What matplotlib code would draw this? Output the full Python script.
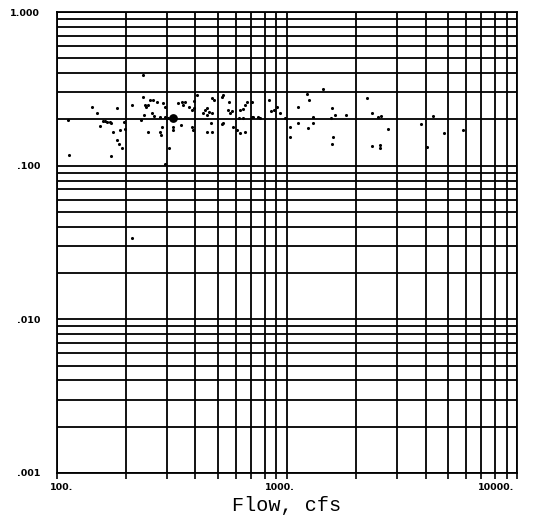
import matplotlib
matplotlib.use("Agg")
import matplotlib.pyplot as plt
from matplotlib.ticker import LogLocator, NullFormatter, FixedLocator
from matplotlib.transforms import ScaledTranslation

# flow (cfs) and ratio
flow = [112, 113, 142, 149, 182, 158, 162, 165, 170, 172,
        154, 188, 198, 196, 175, 182, 187, 191, 171, 211,
        237, 241, 249, 254, 261, 245, 240, 258, 264, 233,
        248, 237, 213, 273, 290, 295, 280, 295, 305, 337,
        348, 354, 360, 376, 385, 394, 405, 394, 285, 280,
        282, 318, 320, 345, 385, 389, 308, 295, 440, 448,
        459, 471, 433, 450, 471, 482, 520, 529, 561, 556,
        575, 565, 529, 520, 467, 471, 450, 625, 646, 620,
        646, 584, 608, 625, 668, 657, 702, 702, 714, 750,
        763, 657, 835, 852, 881, 902, 932, 980, 1438, 1225,
        1250, 1119, 1301, 1113, 1030, 1230, 1301, 1030, 1574, 1617,
        1554, 1590, 1564, 2221, 1805, 2349, 2494, 2555, 2757, 2349,
        2537, 2537, 3824, 4074, 4326, 4815, 5805]
ratio = [0.198, 0.117, 0.242, 0.219, 0.236, 0.195, 0.195, 0.193, 0.192, 0.189,
         0.181, 0.171, 0.173, 0.193, 0.166, 0.147, 0.138, 0.130, 0.116, 0.248,
         0.281, 0.248, 0.248, 0.268, 0.268, 0.242, 0.214, 0.219, 0.211, 0.198,
         0.166, 0.389, 0.034, 0.261, 0.255, 0.242, 0.207, 0.208, 0.203, 0.255,
         0.259, 0.248, 0.261, 0.242, 0.230, 0.236, 0.288, 0.264, 0.179, 0.166,
         0.158, 0.179, 0.171, 0.184, 0.179, 0.171, 0.130, 0.103, 0.230, 0.236,
         0.225, 0.219, 0.219, 0.214, 0.277, 0.268, 0.281, 0.288, 0.261, 0.230,
         0.227, 0.219, 0.189, 0.186, 0.189, 0.166, 0.166, 0.230, 0.234, 0.203,
         0.203, 0.179, 0.171, 0.164, 0.261, 0.248, 0.261, 0.208, 0.207, 0.208,
         0.203, 0.166, 0.268, 0.227, 0.230, 0.242, 0.219, 0.203, 0.314, 0.291,
         0.268, 0.242, 0.208, 0.189, 0.179, 0.177, 0.189, 0.154, 0.238, 0.214,
         0.203, 0.154, 0.138, 0.275, 0.214, 0.219, 0.208, 0.212, 0.173, 0.134,
         0.136, 0.131, 0.186, 0.132, 0.212, 0.164, 0.171]

# one heavy dot in the cluster
big_flow = [318]
big_ratio = [0.203]

fig = plt.figure(figsize=(5.42, 5.22), dpi=100)
ax = fig.add_axes([0.105, 0.094, 0.849, 0.883])

ax.scatter(flow, ratio, s=5, color="black", zorder=3, linewidths=0)
ax.scatter(big_flow, big_ratio, s=40, color="black", zorder=3, linewidths=0)

ax.set_xscale("log")
ax.set_yscale("log")
ax.set_xlim(100, 10000)
ax.set_ylim(0.001, 1.0)

# full grid on every 1..9 subdivision
ax.xaxis.set_major_locator(FixedLocator([100, 1000, 10000]))
ax.yaxis.set_major_locator(FixedLocator([0.001, 0.01, 0.1, 1.0]))
ax.xaxis.set_minor_locator(LogLocator(base=10, subs=range(2, 10)))
ax.yaxis.set_minor_locator(LogLocator(base=10, subs=range(2, 10)))
ax.xaxis.set_minor_formatter(NullFormatter())
ax.yaxis.set_minor_formatter(NullFormatter())
ax.grid(True, which="both", color="black", linewidth=1.3)

ax.set_xticklabels(["100.", "1000.", "10000."])
ax.set_yticklabels([".001", ".010", ".100", "1.000"])
ax.tick_params(axis="x", which="both", direction="out", length=4, width=1.2,
               labelsize=6.8, pad=3)
ax.tick_params(axis="y", which="both", length=0, labelsize=6.8, pad=12)
for lab in ax.get_xticklabels() + ax.get_yticklabels():
    lab.set_fontweight("bold")
for lab, dx in zip(ax.get_xticklabels(), [5, -7, -21]):
    lab.set_transform(lab.get_transform() + ScaledTranslation(dx / 100, 0, fig.dpi_scale_trans))

for sp in ax.spines.values():
    sp.set_linewidth(1.3)

ax.set_xlabel("Flow, cfs", fontfamily="Liberation Mono", fontsize=14.5, labelpad=3)

fig.savefig("out.png", dpi=100)
